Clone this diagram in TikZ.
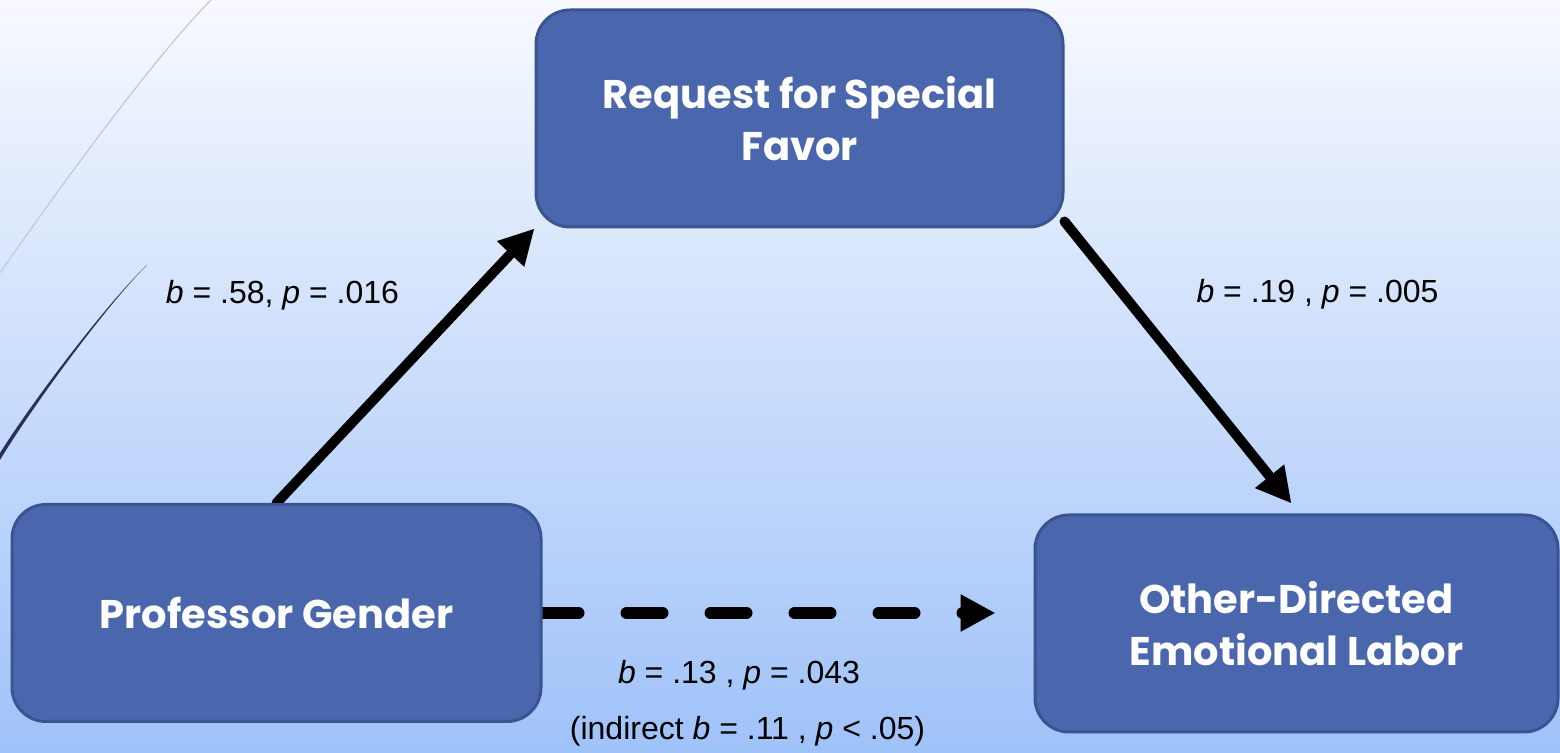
\documentclass[tikz,border=0pt]{standalone}
\usepackage{fontspec}
\setmainfont{Liberation Sans}
\newfontfamily\gothicfam{Poppins}
\usetikzlibrary{arrows.meta,calc}
\pgfdeclarelayer{back}
\pgfdeclarelayer{conn}
\pgfsetlayers{back,conn,main}
\newcommand\gothic{\gothicfam\bfseries}
\definecolor{bgtop}{HTML}{F7F9FE}
\definecolor{bgbot}{HTML}{9FC2F9}
\definecolor{boxfill}{HTML}{4A66AD}
\definecolor{boxline}{HTML}{3A5391}
\definecolor{arcgray}{HTML}{C3C9D3}
\definecolor{arcnavy}{HTML}{2A2F5E}
\tikzset{
  box/.style={draw=boxline, fill=boxfill, line width=1.5pt, rounded corners=17pt,
    minimum width=263pt, minimum height=108.5pt, text=white, align=center,
    inner sep=0pt, font=\gothic\fontsize{20}{26}\selectfont},
  lab/.style={anchor=base, inner sep=0pt, font=\fontsize{16}{18}\selectfont},
  solidarrow/.style={line width=5pt, line cap=round, -{Triangle[length=17.5pt,width=17.5pt]}},
  dasharrow/.style={line width=6pt, line cap=round, dash pattern=on 18pt off 24pt,
    -{Triangle[length=17.5pt,width=17.5pt]}}
}
\begin{document}
\begin{tikzpicture}[x=0.5pt,y=-0.5pt]
\useasboundingbox (0,0) rectangle (1560,753);
\begin{pgfonlayer}{back}
  \shade[top color=bgtop, bottom color=bgbot] (0,0) rectangle (1560,753);
  \draw[arcgray, line width=0.6pt] (211,0) .. controls (151,60) and (45,208) .. (0,273);
  \fill[arcnavy] (147,265) .. controls (105,305) and (30,405) .. (0,453)
     -- (0,460) .. controls (32,407) and (106,306) .. (147,265) -- cycle;
\end{pgfonlayer}

\node[box, minimum width=263.5pt] (rf) at (799.5,118.5) {Request for Special\\Favor};
\node[box, minimum width=264.5pt] (pg) at (276.5,613) {Professor Gender};
\node[box, minimum width=261.5pt] (od) at (1296.5,623.5) {Other-Directed\\Emotional Labor};

\node[lab] (l1) at (282.5,304) {\textit{b} = .58, \textit{p} = .016};
\node[lab] (l2) at (1317.5,303) {\textit{b} = .19 , \textit{p} = .005};
\node[lab] (l3) at (739,683) {\textit{b} = .13 , \textit{p} = .043};
\node[lab] (l4) at (747.5,740) {(indirect \textit{b} = .11 , \textit{p} {\char`<} .05)};

\coordinate (dend) at ($(od.west)+(-38,0)$);
\begin{pgfonlayer}{conn}
  \draw[solidarrow] (pg.north) -- (rf.south west);
  \draw[solidarrow] ($(rf.south east)+(0,-7)$) -- ($(od.north)+(-5,-10)$);
  \draw[dasharrow] (pg.east) -- (pg.east -| dend);
\end{pgfonlayer}
\end{tikzpicture}
\end{document}
